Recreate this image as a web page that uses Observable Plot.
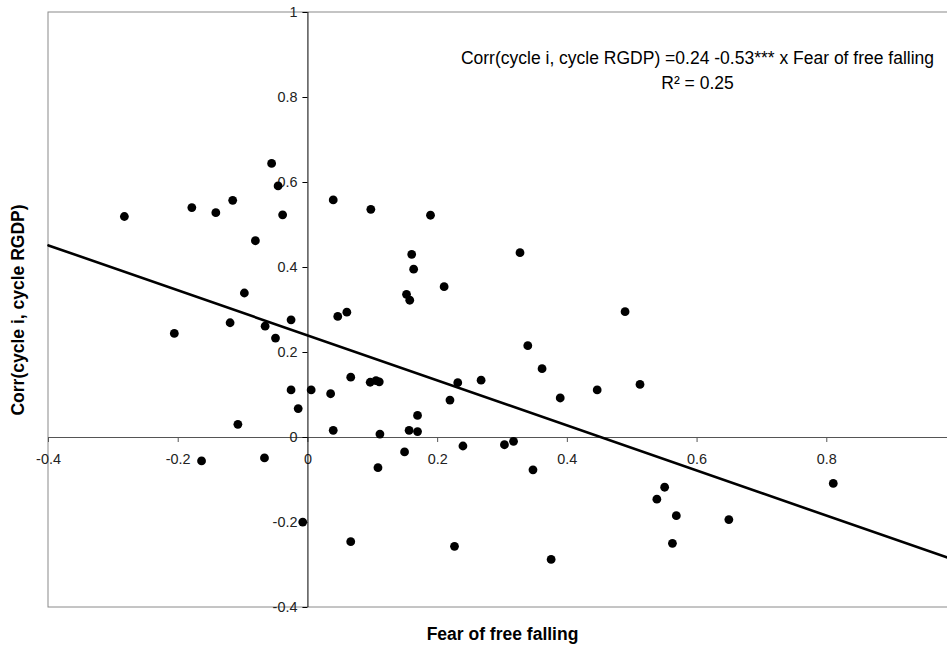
<!DOCTYPE html>
<html>
<head>
<meta charset="utf-8">
<script src="https://cdn.jsdelivr.net/npm/d3@7"></script>
<script src="https://cdn.jsdelivr.net/npm/@observablehq/plot@0.6"></script>
<style>
  html, body { margin: 0; padding: 0; background: #fff; overflow: hidden; }
  #chart { width: 947px; height: 650px; overflow: hidden; }
</style>
</head>
<body>
<div id="chart"></div>
<script>
// ---- data ----
const fearOfFreeFalling = [
  -0.283, -0.179, -0.142, -0.116, -0.056, -0.046, -0.039, -0.081, -0.098, 0.039,
   0.046,  0.060, -0.026, -0.120, -0.206, -0.066, -0.050, -0.026,  0.005, 0.035,
   0.066, -0.015, -0.108,  0.039, -0.164, -0.067,  0.097,  0.189,  0.160, 0.163,
   0.210,  0.152,  0.157,  0.327,  0.339,  0.096,  0.105,  0.110,  0.111, 0.156,
   0.169,  0.169,  0.219,  0.231,  0.267,  0.361,  0.389,  0.149,  0.108, 0.239,
   0.303,  0.317,  0.347, -0.008,  0.066,  0.226,  0.375,  0.489,  0.446, 0.512,
   0.550,  0.538,  0.568,  0.562,  0.649,  0.810
];
const corrCycle = [
   0.520,  0.541,  0.529,  0.558,  0.645,  0.592,  0.524,  0.463,  0.340, 0.559,
   0.285,  0.295,  0.277,  0.270,  0.245,  0.262,  0.234,  0.112,  0.112, 0.103,
   0.142,  0.068,  0.031,  0.017, -0.055, -0.048,  0.537,  0.523,  0.431, 0.396,
   0.355,  0.337,  0.323,  0.435,  0.216,  0.130,  0.134,  0.131,  0.008, 0.017,
   0.014,  0.052,  0.088,  0.129,  0.135,  0.162,  0.093, -0.034, -0.071, -0.020,
  -0.017, -0.009, -0.076, -0.199, -0.245, -0.256, -0.287,  0.296,  0.112, 0.125,
  -0.117, -0.145, -0.184, -0.249, -0.193, -0.108
];
const regIntercept = 0.24;
const regSlope = -0.53;
const xDomain = [-0.4, 1];
const yDomain = [-0.4, 1];
const xTicks = [-0.4, -0.2, 0, 0.2, 0.4, 0.6, 0.8];
const xTickLabels = ["-0.4", "-0.2", "0", "0.2", "0.4", "0.6", "0.8"];
const yTicks = [1, 0.8, 0.6, 0.4, 0.2, 0, -0.2, -0.4];
const yTickLabels = ["1", "0.8", "0.6", "0.4", "0.2", "0", "-0.2", "-0.4"];
const xTitle = "Fear of free falling";
const yTitle = "Corr(cycle i, cycle RGDP)";
const eqText = "Corr(cycle i, cycle RGDP) =0.24 -0.53*** x Fear of free falling";
const r2Text = "R\u00B2 = 0.25";

// ---- layout ----
const W = 947, H = 650;
const mLeft = 48, mTop = 12, mBottom = 43;
const xRange = [48, 956];
const yRange = [H - mBottom, mTop];
const font = "'Liberation Sans', Arial, sans-serif";
const frameGray = "#8a8a8a";
const axisGray = "#555";
const tickPx = 5;
const tickLenY = tickPx * (yDomain[1] - yDomain[0]) / (yRange[0] - yRange[1]);
const tickLenX = tickPx * (xDomain[1] - xDomain[0]) / (xRange[1] - xRange[0]);

const points = fearOfFreeFalling.map((x, i) => ({x, y: corrCycle[i]}));
const regLine = xDomain.map(x => ({x, y: regIntercept + regSlope * x}));
const xt = xTicks.map((v, i) => ({v, label: xTickLabels[i]}));
const yt = yTicks.map((v, i) => ({v, label: yTickLabels[i]}));

const chart = Plot.plot({
  width: W,
  height: H,
  marginLeft: mLeft,
  marginTop: mTop,
  marginBottom: mBottom,
  marginRight: 0,
  style: {fontFamily: font, background: "#fff", overflow: "hidden"},
  x: {domain: xDomain, range: xRange, axis: null},
  y: {domain: yDomain, range: yRange, axis: null},
  marks: [
    // plot-area border
    Plot.rect([0], {x1: xDomain[0], x2: xDomain[1], y1: yDomain[0], y2: yDomain[1],
      fill: "none", stroke: frameGray, strokeWidth: 1}),
    // horizontal axis at y = 0
    Plot.ruleY([0], {x1: xDomain[0], x2: xDomain[1], stroke: axisGray, strokeWidth: 1}),
    Plot.ruleX(xt, {x: "v", y1: 0, y2: -tickLenY, stroke: axisGray, strokeWidth: 1}),
    Plot.text(xt, {x: "v", y: 0, text: "label", dy: 21.5, fontSize: 14.4, fill: "#222", lineAnchor: "middle"}),
    // vertical axis at x = 0
    Plot.ruleX([0], {y1: yDomain[0], y2: yDomain[1], stroke: "#000", strokeWidth: 1}),
    Plot.ruleY(yt, {y: "v", x1: 0, x2: -tickLenX, stroke: "#000", strokeWidth: 1}),
    Plot.text(yt, {x: 0, y: "v", text: "label", dx: -10.5, textAnchor: "end", lineAnchor: "middle", fontSize: 14.4, fill: "#222"}),
    // regression line
    Plot.line(regLine, {x: "x", y: "y", stroke: "#000", strokeWidth: 2.6}),
    // data points
    Plot.dot(points, {x: "x", y: "y", r: 4.4, fill: "#000", stroke: "none"}),
    // axis titles
    Plot.text([xTitle], {x: (xDomain[0] + xDomain[1]) / 2, y: yDomain[0], text: d => d, dy: 27,
      fontSize: 17.5, fontWeight: "bold", fill: "#000", lineAnchor: "middle"}),
    Plot.text([yTitle], {x: xDomain[0], y: (yDomain[0] + yDomain[1]) / 2, text: d => d, dx: -30,
      rotate: -90, fontSize: 17.5, fontWeight: "bold", fill: "#000", lineAnchor: "middle"}),
    // annotations
    Plot.text([eqText], {frameAnchor: "top-left", text: d => d, dx: 697 - mLeft, dy: 58 - mTop,
      textAnchor: "middle", lineAnchor: "middle", fontSize: 17.5, fill: "#000"}),
    Plot.text([r2Text], {frameAnchor: "top-left", text: d => d, dx: 697 - mLeft, dy: 83 - mTop,
      textAnchor: "middle", lineAnchor: "middle", fontSize: 17.5, fill: "#000"})
  ]
});
document.getElementById("chart").appendChild(chart);
</script>
</body>
</html>
